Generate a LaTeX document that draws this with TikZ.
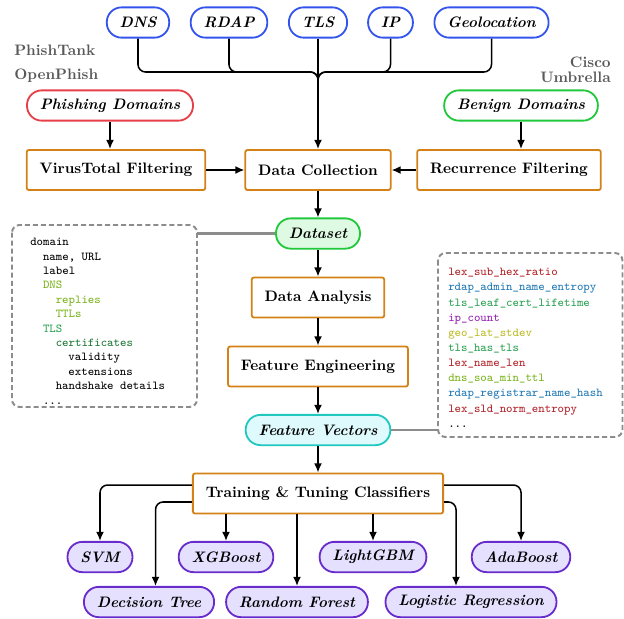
\documentclass[tikz,border=0pt]{standalone}
\usepackage{tikz}
\usetikzlibrary{calc,arrows.meta}

\definecolor{apiblue}{RGB}{52,84,238}
\definecolor{phishred}{RGB}{232,62,72}
\definecolor{benigngreen}{RGB}{34,200,60}
\definecolor{stageorange}{RGB}{212,130,22}
\definecolor{setfill}{RGB}{222,250,226}
\definecolor{vecline}{RGB}{32,200,192}
\definecolor{vecfill}{RGB}{222,250,252}
\definecolor{clfline}{RGB}{104,44,204}
\definecolor{clffill}{RGB}{230,224,255}
\definecolor{lexred}{RGB}{178,34,40}
\definecolor{rdapblue}{RGB}{31,119,180}
\definecolor{tlsgreen}{RGB}{40,160,80}
\definecolor{certgreen}{RGB}{28,118,52}
\definecolor{ippurple}{RGB}{150,32,180}
\definecolor{geoolive}{RGB}{188,186,36}
\definecolor{dnslime}{RGB}{122,180,28}

\newcommand{\ind}{\hspace*{1.05em}}

\begin{document}
\begin{tikzpicture}[x=0.66pt,y=-0.66pt,font=\fontsize{10}{12}\selectfont,
  pill/.style={very thick,rounded corners=9.8pt,minimum height=20pt,inner xsep=8.5pt,font=\bfseries\itshape},
  api/.style={pill,draw=apiblue,fill=white},
  stage/.style={draw=stageorange,very thick,fill=white,rounded corners=1.5pt,minimum height=26.5pt,inner xsep=8.5pt,font=\bfseries},
  clf/.style={pill,draw=clfline,fill=clffill},
  origin/.style={text=black!65,font=\fontsize{10}{10}\selectfont\bfseries,inner sep=0pt},
  panel/.style={draw=black!45,line width=1.3pt,dash pattern=on 3.3pt off 2pt,rounded corners=5pt},
  listing/.style={anchor=north west,align=left,inner sep=0pt},
  tie/.style={black!45,line width=1.4pt},
  wire/.style={line width=1pt,rounded corners=5pt},
  flow/.style={-{Latex[length=6pt,width=5.2pt]},line width=1pt}]
\useasboundingbox (0,0) rectangle (624,618);

% lookups feeding the collector
\node[api] (dns) at (138,22.5) {DNS};
\node[api] (rdap) at (229,22.5) {RDAP};
\node[api] (tls) at (318,22.5) {TLS};
\node[api] (ip) at (390.5,22.5) {IP};
\node[api] (geo) at (491.5,22.5) {Geolocation};

% domain feeds
\node[origin,anchor=west] (pt) at (14,50) {PhishTank};
\node[origin,anchor=west] (op) at (14,76) {OpenPhish};
\node[origin,anchor=east,align=right] (cu) at (611,69.5) {Cisco\\Umbrella};
\node[pill,draw=phishred,fill=white] (phish) at (110,105.5) {Phishing Domains};
\node[pill,draw=benigngreen,fill=white] (benign) at (521,105.5) {Benign Domains};

% pipeline
\node[stage] (vt) at (116,170) {VirusTotal Filtering};
\node[stage] (dc) at (318,170) {Data Collection};
\node[stage] (rf) at (509,170) {Recurrence Filtering};
\node[pill,draw=benigngreen,fill=setfill] (ds) at (318,233.5) {Dataset};
\node[stage] (da) at (318,297.5) {Data Analysis};
\node[stage] (fe) at (318,366.5) {Feature Engineering};
\node[pill,draw=vecline,fill=vecfill] (fv) at (318,430) {Feature Vectors};
\node[stage] (tr) at (318,493.5) {Training \& Tuning Classifiers};

% classifiers
\node[clf] (svm) at (100,557) {SVM};
\node[clf] (xgb) at (226,557) {XGBoost};
\node[clf] (lgbm) at (373,557) {LightGBM};
\node[clf] (ada) at (521,557) {AdaBoost};
\node[clf] (dt) at (149,602) {Decision Tree};
\node[clf] (rfo) at (297,602) {Random Forest};
\node[clf] (lr) at (471,602) {Logistic Regression};

% dataset schema
\draw[panel] (12,225) rectangle (197,407);
\node[listing,font=\footnotesize\ttfamily] (schema) at (30,238) {domain\\
\ind name, URL\\
\ind label\\
\ind\textcolor{dnslime}{DNS}\\
\ind\ind\textcolor{dnslime}{replies}\\
\ind\ind\textcolor{dnslime}{TTLs}\\
\ind\textcolor{tlsgreen}{TLS}\\
\ind\ind\textcolor{certgreen}{certificates}\\
\ind\ind\ind validity\\
\ind\ind\ind extensions\\
\ind\ind handshake details\\
\ind ...};
\coordinate (sch) at (197,233.5);
\draw[tie] (ds.west) -- (sch);

% feature list
\draw[panel] (438,253) rectangle (622.5,437);
\node[listing,font=\fontsize{8}{10}\selectfont\ttfamily] (feats) at (448,268) {\textcolor{lexred}{lex\_sub\_hex\_ratio}\\
\textcolor{rdapblue}{rdap\_admin\_name\_entropy}\\
\textcolor{tlsgreen}{tls\_leaf\_cert\_lifetime}\\
\textcolor{ippurple}{ip\_count}\\
\textcolor{geoolive}{geo\_lat\_stdev}\\
\textcolor{tlsgreen}{tls\_has\_tls}\\
\textcolor{lexred}{lex\_name\_len}\\
\textcolor{dnslime}{dns\_soa\_min\_ttl}\\
\textcolor{rdapblue}{rdap\_registrar\_name\_hash}\\
\textcolor{lexred}{lex\_sld\_norm\_entropy}\\
...};
\coordinate (fts) at (438,430);
\draw[tie] (fv.east) -- (fts);

% lookups merge into one line
\coordinate (bus) at (318,72);
\coordinate (join) at (318,107);
\draw[wire] (dns.south) |- (bus) -- (join);
\draw[wire] (rdap.south) |- (bus) -- (join);
\draw[wire] (ip.south) |- (bus) -- (join);
\draw[wire] (geo.south) |- (bus) -- (join);
\draw[flow] (tls.south) -- (dc.north);

% filtering
\draw[flow] (phish.south) -- (phish.south |- vt.north);
\draw[flow] (benign.south) -- (benign.south |- rf.north);
\draw[flow] (vt.east) -- (dc.west);
\draw[flow] (rf.west) -- (dc.east);

% main chain
\draw[flow] (dc.south) -- (ds.north);
\draw[flow] (ds.south) -- (da.north);
\draw[flow] (da.south) -- (fe.north);
\draw[flow] (fe.south) -- (fv.north);
\draw[flow] (fv.south) -- (tr.north);

% fan out to classifiers
\draw[flow,rounded corners=5pt] ([yshift=5.6pt]tr.west) -| (svm.north);
\draw[flow,rounded corners=5pt] ([yshift=-5.6pt]tr.west) -| ([xshift=4.3pt]dt.north);
\draw[flow] (xgb.north |- tr.south) -- (xgb.north);
\draw[flow] (rfo.north |- tr.south) -- (rfo.north);
\draw[flow] (lgbm.north |- tr.south) -- (lgbm.north);
\draw[flow,rounded corners=5pt] ([yshift=-5.6pt]tr.east) -| ([xshift=-9.9pt]lr.north);
\draw[flow,rounded corners=5pt] ([yshift=5.6pt]tr.east) -| (ada.north);
\end{tikzpicture}
\end{document}
